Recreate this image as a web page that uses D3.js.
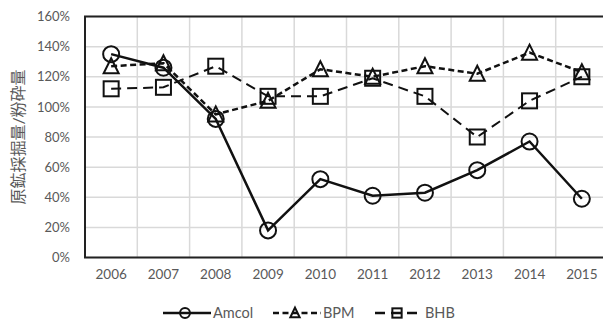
<!DOCTYPE html>
<html>
<head>
<meta charset="utf-8">
<script src="https://cdn.jsdelivr.net/npm/d3@7"></script>
<style>
  html, body { margin: 0; padding: 0; background: #fff; }
  svg { display: block; }
  text { font-family: Lato, "Noto Sans CJK JP", sans-serif; fill: #595959; }
</style>
</head>
<body>
<svg id="chart" width="603" height="322"></svg>
<script>
// Years on the x axis
const years = ["2006","2007","2008","2009","2010","2011","2012","2013","2014","2015"];
// Ratio of ore mined to ore milled, in percent
const amcol = [135, 126, 92, 18, 52, 41, 43, 58, 77, 39];
const bpm   = [127, 129, 95, 104, 125, 120, 127, 122, 136, 123];
const bhb   = [112, 113, 127, 107, 107, 119, 107, 80, 104, 120];
const seriesNames = ["Amcol", "BPM", "BHB"];
const yTicks = [0, 20, 40, 60, 80, 100, 120, 140, 160];
const yTitle = "原鉱採掘量/粉砕量";

const svg = d3.select("#chart");
const plotLeft = 85, plotRight = 608, plotTop = 16.5, plotBottom = 257.5;

const x = d3.scaleBand().domain(years).range([plotLeft, plotRight]);
const y = d3.scaleLinear().domain([0, 160]).range([plotBottom, plotTop]);

// gridlines
const grid = svg.append("g").attr("stroke", "#d9d9d9").attr("stroke-width", 1.5);
grid.selectAll("line.h").data(yTicks).join("line")
  .attr("x1", plotLeft).attr("x2", plotRight)
  .attr("y1", d => y(d)).attr("y2", d => y(d));
grid.selectAll("line.v").data(years.slice(1)).join("line")
  .attr("x1", d => x(d)).attr("x2", d => x(d))
  .attr("y1", plotTop).attr("y2", plotBottom);

// frame: left, top and bottom edges
svg.append("path")
  .attr("d", `M${plotRight},${plotTop}H${plotLeft}V${plotBottom}H${plotRight}`)
  .attr("fill", "none").attr("stroke", "#222").attr("stroke-width", 2);

// y axis labels
const yAxis = svg.append("g").attr("transform", `translate(${plotLeft},0)`)
  .call(d3.axisLeft(y).tickValues(yTicks).tickFormat(d => d + "%").tickSize(0).tickPadding(15));
yAxis.select(".domain").remove();
yAxis.selectAll("text").style("font-size", "13px").attr("fill", "#595959");

// x axis labels
const xAxis = svg.append("g").attr("transform", `translate(0,${plotBottom})`)
  .call(d3.axisBottom(x).tickSize(0).tickPadding(12));
xAxis.select(".domain").remove();
xAxis.selectAll("text").style("font-size", "13.5px").attr("fill", "#595959");

// y axis title
svg.append("text")
  .attr("transform", `translate(24,${(plotTop + plotBottom) / 2}) rotate(-90)`)
  .attr("text-anchor", "middle")
  .style("font-size", "16px")
  .text(yTitle);

const cx = d => x(d) + x.bandwidth() / 2;

const styles = [
  { data: amcol, dash: null,  width: 2.5, marker: "circle" },
  { data: bpm,   dash: "6,3.5", width: 2.5, marker: "triangle" },
  { data: bhb,   dash: "10,6", width: 2, marker: "square" }
];

function drawMarker(g, type, px, py, s) {
  if (type === "circle") {
    g.append("circle").attr("cx", px).attr("cy", py).attr("r", 8 * s);
  } else if (type === "square") {
    const h = 7.5 * s;
    g.append("rect").attr("x", px - h).attr("y", py - h).attr("width", 2 * h).attr("height", 2 * h);
  } else {
    const w = 7.5 * s, h = 7 * s;
    g.append("path").attr("d", `M${px},${py - h - 1}L${px + w},${py + h}L${px - w},${py + h}Z`);
  }
}

const line = d3.line().x((d, i) => cx(years[i])).y(d => y(d));

styles.forEach(st => {
  svg.append("path")
    .datum(st.data)
    .attr("d", line)
    .attr("fill", "none")
    .attr("stroke", "#111")
    .attr("stroke-width", st.width)
    .attr("stroke-dasharray", st.dash);
  const mg = svg.append("g").attr("fill", "none").attr("stroke", "#111").attr("stroke-width", 2);
  st.data.forEach((v, i) => drawMarker(mg, st.marker, cx(years[i]), y(v), 1));
});

// legend
const legendX = [163, 273, 375];
const ly = 313;
styles.forEach((st, i) => {
  const g = svg.append("g");
  g.append("line")
    .attr("x1", legendX[i]).attr("x2", legendX[i] + 48)
    .attr("y1", ly).attr("y2", ly)
    .attr("stroke", "#111").attr("stroke-width", 2.5)
    .attr("stroke-dasharray", st.dash);
  const mg = g.append("g").attr("fill", "none").attr("stroke", "#111").attr("stroke-width", 2);
  drawMarker(mg, st.marker, legendX[i] + 22, ly, 0.62);
  g.append("text")
    .attr("x", legendX[i] + 50).attr("y", ly)
    .attr("dy", "0.35em")
    .style("font-size", "14.5px")
    .text(seriesNames[i]);
});
</script>
</body>
</html>
